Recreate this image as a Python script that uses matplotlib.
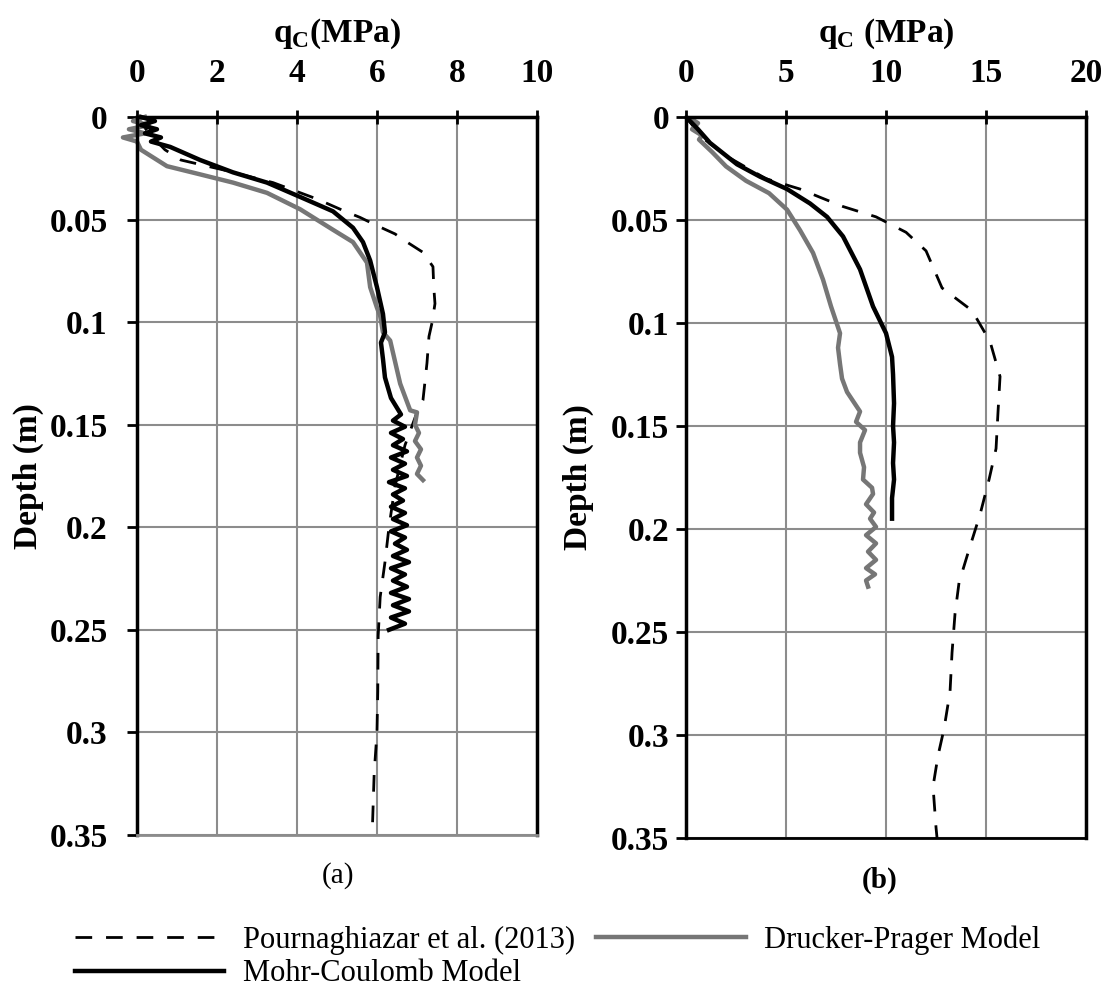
import matplotlib
matplotlib.use("Agg")
import matplotlib.pyplot as plt

plt.rcParams['font.family'] = ['Liberation Serif', 'DejaVu Serif']

# ---- panel (a) ----
a_mc_d = [0.000, 0.002, 0.004, 0.006, 0.008, 0.010, 0.012, 0.0146, 0.021, 0.027, 0.032, 0.039,
          0.046, 0.054, 0.061, 0.070, 0.083, 0.096, 0.105, 0.110, 0.118, 0.127, 0.137, 0.145,
          0.148, 0.151, 0.154, 0.157, 0.160, 0.163, 0.166, 0.169, 0.172, 0.175, 0.178, 0.181,
          0.184, 0.187, 0.190, 0.193, 0.196, 0.199, 0.202, 0.205, 0.208, 0.211, 0.214, 0.217,
          0.220, 0.223, 0.226, 0.229, 0.232, 0.235, 0.238, 0.241, 0.244, 0.247, 0.250]
a_mc_q = [0.1, 0.45, 0.1, 0.5, 0.2, 0.6, 0.35, 0.83, 1.58, 2.4, 3.25, 4.08,
          4.9, 5.4, 5.65, 5.83, 6.0, 6.15, 6.2, 6.1, 6.15, 6.2, 6.35, 6.6,
          6.4, 6.7, 6.35, 6.65, 6.4, 6.75, 6.35, 6.7, 6.4, 6.75, 6.3, 6.7,
          6.4, 6.65, 6.35, 6.7, 6.4, 6.75, 6.35, 6.7, 6.45, 6.75, 6.4, 6.8,
          6.35, 6.7, 6.4, 6.75, 6.35, 6.8, 6.4, 6.8, 6.35, 6.7, 6.3]

a_dp_d = [0.000, 0.002, 0.004, 0.006, 0.008, 0.010, 0.012, 0.016, 0.024, 0.028, 0.032, 0.037,
          0.045, 0.055, 0.061, 0.071, 0.083, 0.093, 0.097, 0.105, 0.109, 0.130, 0.143, 0.144,
          0.150, 0.154, 0.158, 0.162, 0.166, 0.170, 0.174, 0.177]
a_dp_q = [0.2, -0.1, 0.3, -0.2, 0.2, -0.35, 0.0, 0.1, 0.75, 1.58, 2.4, 3.25,
          4.08, 4.9, 5.4, 5.75, 5.83, 6.0, 6.08, 6.15, 6.33, 6.58, 6.83, 7.0,
          6.95, 7.05, 6.95, 7.1, 7.0, 7.1, 7.0, 7.15]

a_exp_d = [0.000, 0.008, 0.016, 0.021, 0.026, 0.032, 0.040, 0.046, 0.049, 0.053, 0.057, 0.061,
           0.066, 0.073, 0.083, 0.091, 0.100, 0.107, 0.120, 0.138, 0.144, 0.160, 0.180, 0.200,
           0.217, 0.234, 0.253, 0.280, 0.300, 0.320, 0.350]
a_exp_q = [0.0, 0.3, 0.7, 1.1, 2.2, 3.4, 4.5, 5.2, 5.58, 6.0, 6.45, 6.75,
           7.15, 7.4, 7.42, 7.45, 7.38, 7.3, 7.25, 7.15, 7.0, 6.7, 6.45, 6.3,
           6.2, 6.08, 6.03, 6.02, 6.0, 5.93, 5.88]

# ---- panel (b) ----
b_mc_d = [0.000, 0.003, 0.006, 0.0126, 0.023, 0.029, 0.035, 0.042, 0.0485, 0.058, 0.0646, 0.074,
          0.092, 0.105, 0.1165, 0.125, 0.139, 0.150, 0.158, 0.168, 0.176, 0.185, 0.195]
b_mc_q = [0.0, 0.3, 0.6, 1.2, 2.55, 3.7, 5.05, 6.2, 7.05, 7.85, 8.2, 8.7,
          9.35, 10.0, 10.3, 10.35, 10.4, 10.35, 10.4, 10.35, 10.4, 10.3, 10.3]

b_dp_d = [0.000, 0.003, 0.006, 0.009, 0.011, 0.017, 0.024, 0.031, 0.037, 0.045, 0.055, 0.066,
          0.079, 0.092, 0.105, 0.112, 0.120, 0.127, 0.1335, 0.143, 0.148, 0.152, 0.158, 0.163,
          0.170, 0.176, 0.180, 0.183, 0.188, 0.192, 0.195, 0.199, 0.203, 0.207, 0.211, 0.215,
          0.219, 0.222, 0.225, 0.228]
b_dp_q = [0.1, 0.6, 0.3, 0.8, 0.65, 1.3, 2.0, 3.0, 4.15, 5.05, 5.7, 6.35,
          6.85, 7.25, 7.7, 7.6, 7.7, 7.8, 8.05, 8.7, 8.5, 8.95, 8.7, 8.7,
          8.9, 8.85, 9.3, 9.35, 9.0, 9.4, 9.2, 9.5, 9.0, 9.5, 9.1, 9.5,
          9.0, 9.45, 9.0, 9.1]

b_exp_d = [0.000, 0.010, 0.020, 0.030, 0.035, 0.039, 0.0435, 0.0485, 0.056, 0.065, 0.083, 0.094,
           0.109, 0.126, 0.143, 0.161, 0.176, 0.193, 0.210, 0.226, 0.241, 0.260, 0.279, 0.297,
           0.310, 0.325, 0.345, 0.350]
b_exp_q = [0.0, 0.8, 2.2, 4.0, 5.7, 6.7, 7.85, 9.5, 11.0, 12.0, 12.8, 14.3,
           15.2, 15.7, 15.6, 15.5, 15.15, 14.7, 14.15, 13.65, 13.45, 13.3, 13.2, 12.9,
           12.6, 12.35, 12.5, 12.55]

depth_ticks = [0, 0.05, 0.1, 0.15, 0.2, 0.25, 0.3, 0.35]
depth_labels = ["0", "0.05", "0.1", "0.15", "0.2", "0.25", "0.3", "0.35"]
a_xticks = [0, 2, 4, 6, 8, 10]
b_xticks = [0, 5, 10, 15, 20]

fig = plt.figure(figsize=(11.09, 9.91), dpi=100)
ax1 = fig.add_axes([0.1235, 0.1574, 0.3607, 0.7246])
ax2 = fig.add_axes([0.6186, 0.1544, 0.3607, 0.7276])


def style(ax, xticks, xlab, ypad, ylabpad):
    ax.set_xlim(xticks[0], xticks[-1])
    ax.set_ylim(0.35, 0)
    ax.set_xticks(xticks)
    ax.set_yticks(depth_ticks)
    ax.set_yticklabels(depth_labels)
    ax.xaxis.tick_top()
    ax.xaxis.set_label_position('top')
    ax.grid(True, color="#8c8c8c", lw=1.5)
    ax.set_axisbelow(True)
    ax.tick_params(axis='x', direction='inout', length=10, width=2, pad=15,
                   labelsize=24)
    ax.tick_params(axis='y', direction='out', length=7, width=2, pad=ypad,
                   labelsize=24)
    for lab in ax.get_xticklabels() + ax.get_yticklabels():
        lab.set_fontweight('bold')
    ax.set_xlabel(xlab, fontsize=24, fontweight='bold', labelpad=12)
    ax.set_ylabel("Depth (m)", fontsize=24, fontweight='bold', labelpad=ylabpad)
    for s in ['top', 'right', 'left']:
        ax.spines[s].set_linewidth(2.5)
        ax.spines[s].set_color('black')
    ax.spines['bottom'].set_linewidth(2)


style(ax1, a_xticks, "q$_\\mathregular{C}$(MPa)", 14, 4)
ax1.spines['bottom'].set_color('#8c8c8c')
style(ax2, b_xticks, "q$_\\mathregular{C}$ (MPa)", 5, 12)

ax1.plot(a_exp_q, a_exp_d, color='black', lw=2, ls=(0, (6, 5)), clip_on=False)
ax1.plot(a_dp_q, a_dp_d, color='#767676', lw=3.2, clip_on=False)
ax1.plot(a_mc_q, a_mc_d, color='black', lw=3.2, clip_on=False)

l1, = ax2.plot(b_exp_q, b_exp_d, color='black', lw=2, ls=(0, (6, 5)))
l2, = ax2.plot(b_dp_q, b_dp_d, color='#767676', lw=3.2)
l3, = ax2.plot(b_mc_q, b_mc_d, color='black', lw=3.2)

fig.text(0.305, 0.117, "(a)", ha='center', va='center', fontsize=21)
fig.text(0.793, 0.112, "(b)", ha='center', va='center', fontsize=21, fontweight='bold')

fig.legend([l1, l3, l2], ["Pournaghiazar et al. (2013)", "Mohr-Coulomb Model",
                          "Drucker-Prager Model"],
           ncol=2, loc='lower left', bbox_to_anchor=(0.048, -0.019), frameon=False,
           fontsize=22, handlelength=4.9, columnspacing=0.7, handletextpad=0.6,
           labelspacing=0.15, borderpad=0.2)

fig.savefig("out.png", dpi=100)
